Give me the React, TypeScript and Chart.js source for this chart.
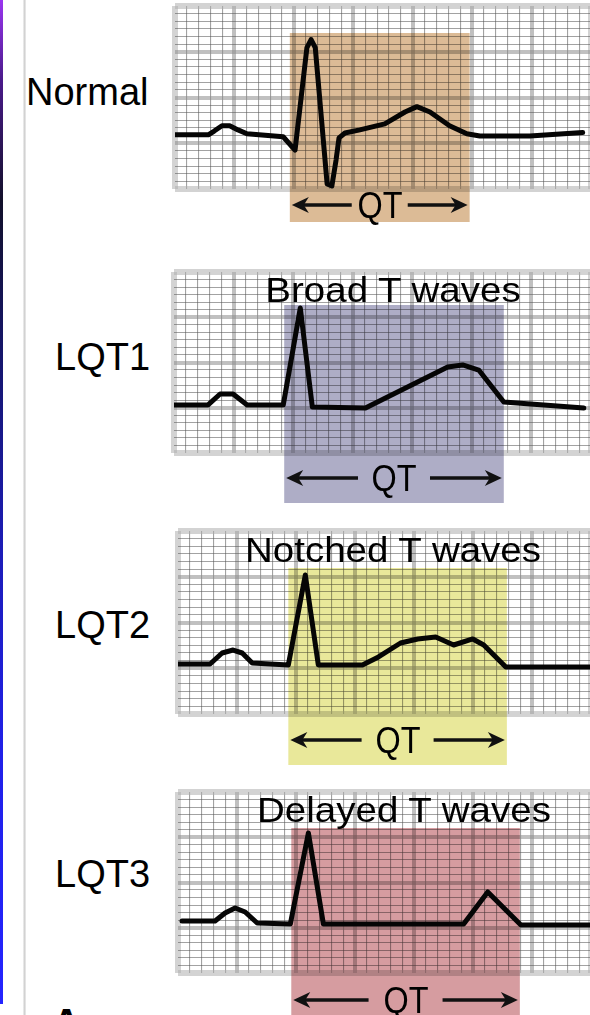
import React, { useEffect, useRef } from "react";
import { Chart, registerables } from "chart.js";

Chart.register(...registerables);

// ECG paper units: x = mm (small boxes) from strip left, y = mm above strip bottom
const NORMAL_X = [0, 2.8, 3.3, 3.95, 4.6, 5.3, 6.05, 9.1, 10.1, 11.1, 11.45, 11.8, 12.8, 13.2, 13.55, 13.8, 14.3, 15.55, 17.65, 19.35, 20.35, 21.45, 23.1, 24.55, 25.65, 29.85, 34.3];
const NORMAL_Y = [7.1, 7.1, 7.6, 8.3, 8.3, 7.75, 7.25, 6.85, 5.1, 18.55, 19.6, 18.55, 0.65, 0.4, 3.8, 6.7, 7.35, 7.75, 8.55, 10.1, 10.8, 10.1, 8.3, 7.25, 6.95, 6.95, 7.4];

const LQT1_X = [0, 2.86, 3.87, 4.96, 6.14, 9.17, 10.6, 11.61, 16.07, 22.97, 24.23, 25.58, 27.68, 34.4];
const LQT1_Y = [6.37, 6.37, 7.82, 7.82, 6.37, 6.37, 19.23, 6.1, 5.97, 11.41, 11.67, 11.0, 6.76, 5.97];

const LQT2_X = [0, 2.72, 3.74, 4.67, 5.44, 6.29, 9.35, 10.79, 11.89, 15.63, 16.99, 18.86, 20.31, 21.84, 23.36, 24.98, 25.91, 27.78, 35];
const LQT2_Y = [6.56, 6.56, 8.0, 8.39, 8.0, 6.69, 6.43, 18.23, 6.43, 6.43, 7.48, 9.31, 9.84, 10.1, 9.05, 9.84, 9.05, 6.16, 6.16];

const LQT3_X = [0.34, 3.14, 3.99, 4.84, 5.69, 6.71, 9.52, 11.05, 12.32, 24.21, 26.25, 27.95, 29.06, 35];
const LQT3_Y = [6.9, 6.9, 7.96, 8.62, 8.09, 6.63, 6.5, 18.57, 6.5, 6.5, 10.74, 8.09, 6.37, 6.37];

// QT interval (start, end) in mm for each strip
const QT_START = [9.66, 9.25, 9.35, 9.6];
const QT_END = [24.79, 27.68, 27.87, 28.97];

const ROW_LABELS = ["Normal", "LQT1", "LQT2", "LQT3"];
const ROW_TITLES = ["", "Broad T waves", "Notched T waves", "Delayed T waves"];
const QT_LABEL = "QT";

const X_MAX = 35;
const Y_MAX = 24;

const SERIES_X = [NORMAL_X, LQT1_X, LQT2_X, LQT3_X];
const SERIES_Y = [NORMAL_Y, LQT1_Y, LQT2_Y, LQT3_Y];

// layout (page pixels)
const LAYOUT = [
  { gridLeft: 175, gridTop: 6, gridBottom: 189, shadeTop: 33, shadeBottom: 222, arrowY: 205, labelLeft: 26, labelBase: 105, titleBase: 0, gap: 28, color: "#dcbb96" },
  { gridLeft: 174, gridTop: 272, gridBottom: 453, shadeTop: 305, shadeBottom: 503, arrowY: 478, labelLeft: 55, labelBase: 370, titleBase: 302, gap: 36, color: "#aeadc6" },
  { gridLeft: 178, gridTop: 531, gridBottom: 714, shadeTop: 568, shadeBottom: 765, arrowY: 740, labelLeft: 55, labelBase: 638, titleBase: 562, gap: 36, color: "#e9e89a" },
  { gridLeft: 178, gridTop: 792, gridBottom: 973, shadeTop: 828, shadeBottom: 1020, arrowY: 1000, labelLeft: 55, labelBase: 887, titleBase: 822, gap: 37, color: "#d69ca0" },
];

const GRID_RIGHT = 591;
const PAD_L = 4;
const PAD_T = 4;
const CANVAS_RIGHT = 595;
const FONT = "'Liberation Sans', Arial, Helvetica, sans-serif";

const qtPlugin = {
  id: "qtShade",
  beforeDatasetsDraw(chart: any, _args: any, opts: any) {
    const { ctx } = chart;
    const xs = chart.scales.x;
    const x0 = xs.getPixelForValue(opts.from);
    const x1 = xs.getPixelForValue(opts.to);
    ctx.save();
    ctx.globalCompositeOperation = "multiply";
    ctx.fillStyle = opts.color;
    ctx.fillRect(x0, opts.top, x1 - x0, opts.bottom - opts.top);
    ctx.restore();
  },
  afterDatasetsDraw(chart: any, _args: any, opts: any) {
    const { ctx } = chart;
    const xs = chart.scales.x;
    const x0 = xs.getPixelForValue(opts.from) + 2;
    const x1 = xs.getPixelForValue(opts.to) - 2;
    const cx = (x0 + x1) / 2;
    const y = opts.arrowY;
    ctx.save();
    ctx.strokeStyle = "#111";
    ctx.fillStyle = "#111";
    ctx.lineWidth = 3.5;
    ctx.beginPath();
    ctx.moveTo(x0 + 10, y);
    ctx.lineTo(cx - opts.gap, y);
    ctx.moveTo(cx + opts.gap, y);
    ctx.lineTo(x1 - 10, y);
    ctx.stroke();
    const head = (tip: number, dir: number) => {
      ctx.beginPath();
      ctx.moveTo(tip, y);
      ctx.lineTo(tip + dir * 17, y - 8);
      ctx.lineTo(tip + dir * 12, y);
      ctx.lineTo(tip + dir * 17, y + 8);
      ctx.closePath();
      ctx.fill();
    };
    head(x0, 1);
    head(x1, -1);
    ctx.restore();
  },
};

function gridStyle(max: number, majorEvery: number) {
  return {
    drawTicks: false,
    color: (c: any) => {
      const v = c.tick ? c.tick.value : 0;
      if (v === 0 || v === max) return "rgba(175,175,175,0.55)";
      if (v % majorEvery === 0) return "rgba(140,140,140,0.55)";
      return "rgba(85,85,85,0.55)";
    },
    lineWidth: (c: any) => {
      const v = c.tick ? c.tick.value : 0;
      if (v === 0 || v === max) return 6;
      if (v % majorEvery === 0) return 4;
      return 1.1;
    },
  };
}

function EcgStrip({ index }: { index: number }) {
  const ref = useRef<HTMLCanvasElement>(null);
  const L = LAYOUT[index];
  const canvasLeft = L.gridLeft - PAD_L;
  const canvasTop = L.gridTop - PAD_T;
  const width = CANVAS_RIGHT - canvasLeft;
  const height = L.shadeBottom - canvasTop;

  useEffect(() => {
    if (!ref.current) return;
    const xs = SERIES_X[index];
    const ys = SERIES_Y[index];
    const chart = new Chart(ref.current, {
      type: "line",
      data: {
        datasets: [
          {
            data: xs.map((x, i) => ({ x, y: ys[i] })),
            borderColor: "#050505",
            borderWidth: 5,
            pointRadius: 0,
            tension: 0,
            borderJoinStyle: "round",
            borderCapStyle: "round",
          } as any,
        ],
      },
      options: {
        responsive: false,
        animation: false,
        events: [],
        layout: {
          padding: {
            left: PAD_L,
            top: PAD_T,
            right: CANVAS_RIGHT - GRID_RIGHT,
            bottom: L.shadeBottom - L.gridBottom,
          },
        },
        scales: {
          x: {
            type: "linear",
            min: 0,
            max: X_MAX,
            ticks: { display: false, stepSize: 1, autoSkip: false, maxTicksLimit: 1000 },
            grid: gridStyle(X_MAX, 5) as any,
            border: { display: false },
          },
          y: {
            type: "linear",
            min: 0,
            max: Y_MAX,
            ticks: { display: false, stepSize: 1, autoSkip: false, maxTicksLimit: 1000 },
            grid: gridStyle(Y_MAX, 6) as any,
            border: { display: false },
          },
        },
        plugins: {
          legend: { display: false },
          tooltip: { enabled: false },
          qtShade: {
            from: QT_START[index],
            to: QT_END[index],
            top: L.shadeTop - canvasTop,
            bottom: L.shadeBottom - canvasTop,
            arrowY: L.arrowY - canvasTop,
            gap: L.gap,
            color: L.color,
          },
        } as any,
      },
      plugins: [qtPlugin as any],
    });
    return () => chart.destroy();
  }, [index]);

  const cell = (GRID_RIGHT - L.gridLeft) / X_MAX;
  const qtCenter = L.gridLeft + ((QT_START[index] + QT_END[index]) / 2) * cell;

  return (
    <>
      <canvas
        ref={ref}
        width={width}
        height={height}
        style={{ position: "absolute", left: canvasLeft, top: canvasTop, width, height, filter: "blur(0.45px)" }}
      />
      <div
        style={{
          position: "absolute",
          left: L.labelLeft,
          top: L.labelBase - 0.8465 * 38,
          fontSize: 38,
          lineHeight: "38px",
          fontFamily: FONT,
          color: "#000",
          whiteSpace: "nowrap",
        }}
      >
        {ROW_LABELS[index]}
      </div>
      {ROW_TITLES[index] ? (
        <div
          style={{
            position: "absolute",
            left: 393 + (index === 3 ? 11 : 0),
            top: L.titleBase - 0.8465 * 35,
            fontSize: 35,
            lineHeight: "35px",
            fontFamily: FONT,
            color: "#000",
            whiteSpace: "nowrap",
            transform: "translateX(-50%) scaleX(1.1)",
          }}
        >
          {ROW_TITLES[index]}
        </div>
      ) : null}
      <div
        style={{
          position: "absolute",
          left: qtCenter,
          top: L.arrowY + 13 - 0.8465 * 36,
          fontSize: 36,
          lineHeight: "36px",
          fontFamily: FONT,
          color: "#000",
          whiteSpace: "nowrap",
          transform: "translateX(-50%) scaleX(0.9)",
        }}
      >
        {QT_LABEL}
      </div>
    </>
  );
}

export default function App() {
  return (
    <div
      style={{
        position: "absolute",
        left: 0,
        top: 0,
        width: 590,
        height: 1015,
        overflow: "hidden",
        background: "#fff",
      }}
    >
      <div
        style={{
          position: "absolute",
          left: 0,
          top: 0,
          width: 3,
          height: 1004,
          background: "linear-gradient(to bottom, #9a35f0 0%, #4a1a8a 8%, #12102a 20%, #15156a 35%, #1c1cb8 55%, #2020e8 75%, #2424ff 100%)",
        }}
      />
      <div
        style={{
          position: "absolute",
          left: 23,
          top: 0,
          width: 3,
          height: 1015,
          background: "linear-gradient(to right, #f2f2f2, #d2d2d2, #ededed)",
        }}
      />
      {[0, 1, 2, 3].map((i) => (
        <EcgStrip key={i} index={i} />
      ))}
      <div
        style={{
          position: "absolute",
          left: 52,
          top: 1003,
          fontSize: 40,
          lineHeight: "40px",
          fontWeight: "bold",
          fontFamily: FONT,
          color: "#000",
        }}
      >
        A
      </div>
    </div>
  );
}
